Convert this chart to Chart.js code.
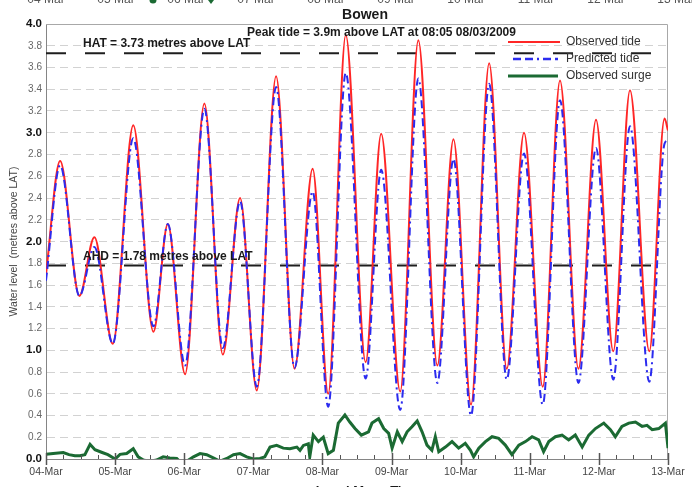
<!DOCTYPE html>
<html>
<head>
<meta charset="utf-8">
<title>Bowen water level</title>
<script src="https://cdn.jsdelivr.net/npm/chart.js@4"></script>
<style>
  html, body { margin: 0; padding: 0; background: #fff; overflow: hidden; }
  canvas { display: block; }
</style>
</head>
<body>
<canvas id="c" width="692" height="487"></canvas>
<script>
// Day labels for the x axis (one per 24 h, starting 04-Mar 00:00)
const dayLabels = ['04-Mar', '05-Mar', '06-Mar', '07-Mar', '08-Mar', '09-Mar', '10-Mar', '11-Mar', '12-Mar', '13-Mar'];

// Times (hours since 04-Mar 00:00) of the tide turning points
const tideHours = [0, 4.9, 11.6, 16.8, 23.2, 30.3, 37.3, 42.3, 48.3, 55.0, 61.4, 67.4, 73.2, 79.9, 86.3, 92.6,
  98.0, 104.1, 111.0, 116.4, 123.0, 129.3, 135.9, 141.5, 147.6, 153.9, 160.0, 166.0, 172.5, 178.5, 184.9,
  191.0, 197.0, 202.8, 209.5, 214.8, 216];

// Observed tide (m above LAT)
const observedTide = [1.70, 2.74, 1.50, 2.04, 1.06, 3.07, 1.17, 2.16, 0.78, 3.27, 0.96, 2.40, 0.63, 3.52, 0.83, 2.67,
  0.60, 3.90, 0.89, 2.99, 0.62, 3.85, 0.86, 2.94, 0.50, 3.64, 0.83, 3.00, 0.665, 3.48, 0.83,
  3.12, 0.99, 3.39, 0.99, 3.13, 3.02];

// Predicted tide (m above LAT)
const predictedTide = [1.64, 2.70, 1.50, 1.95, 1.06, 2.95, 1.22, 2.16, 0.86, 3.22, 1.02, 2.37, 0.665, 3.42, 0.84, 2.46,
  0.48, 3.55, 0.74, 2.66, 0.45, 3.50, 0.70, 2.76, 0.40, 3.45, 0.73, 2.81, 0.50, 3.30, 0.70,
  2.86, 0.73, 3.06, 0.71, 2.90, 2.93];

// Observed surge (m)
const surgeHours = [0, 2.5, 6, 8, 10, 11.8, 13.5, 15.3, 17, 19.5, 21.5, 24, 25.7, 28, 30.3, 32, 33.8, 36, 38.4,
  40.7, 43, 45.4, 47.1, 48.9, 51.2, 53.5, 55.8, 58.1, 60.4, 62.8, 65.1, 67.4, 69.7, 72, 74.3, 76, 77.8,
  80.1, 82.4, 84.7, 87.1, 88.2, 89.4, 91.1, 91.6, 92.8, 94.6, 96.3, 98, 99.8, 101.5, 103.8, 105.5, 107.3,
  109.5, 112, 113.2, 115.5, 117.3, 119, 120.2, 122, 123.7, 125.4, 127.1, 128.9, 130.6, 132.3, 134, 135.2,
  136.4, 138.7, 141, 143.3, 145.6, 147.4, 148.5, 150.3, 152.6, 154.9, 157.2, 159.5, 161.8, 164.2, 166.5,
  168.8, 171.1, 172.8, 174.6, 176.9, 179.2, 181.5, 183.8, 186.2, 188.5, 190.8, 193.7, 196, 197.7, 200,
  202.4, 204.7, 207, 208.7, 210.5, 212.8, 215.1, 216];
const observedSurge = [0.043, 0.05, 0.06, 0.04, 0.03, 0.03, 0.04, 0.135, 0.085, 0.06, 0.04, 0.0, 0.043, 0.05, 0.095,
  0.02, -0.01, -0.02, -0.01, 0.02, 0.01, 0.005, -0.04, -0.02, 0.02, 0.05, 0.04, 0.01, -0.02, 0.005, 0.04,
  0.05, 0.02, 0.0, 0.005, 0.02, 0.11, 0.125, 0.10, 0.095, 0.11, 0.08, 0.125, 0.14, 0.02, 0.22, 0.16, 0.20,
  0.05, 0.08, 0.33, 0.405, 0.34, 0.28, 0.22, 0.25, 0.33, 0.37, 0.28, 0.236, 0.10, 0.25, 0.16, 0.25, 0.297,
  0.35, 0.25, 0.128, 0.08, 0.205, 0.067, 0.11, 0.16, 0.10, 0.144, 0.08, 0.02, 0.10, 0.16, 0.205, 0.19,
  0.128, 0.04, 0.128, 0.16, 0.205, 0.175, 0.067, 0.16, 0.205, 0.22, 0.175, 0.22, 0.11, 0.22, 0.28, 0.33,
  0.27, 0.205, 0.30, 0.33, 0.34, 0.30, 0.31, 0.27, 0.28, 0.33, 0.10];

// Reference levels (m above LAT)
const HAT = 3.73;
const AHD = 1.78;
const peakTide = { value: 3.9, when: '08:05 08/03/2009' };

const FONT = '"Liberation Sans", Arial, Helvetica, sans-serif';
const pts = (xs, ys) => xs.map((x, i) => ({ x, y: ys[i] }));
const spanEnd = (dayLabels.length - 1) * 24;

const COLORS = { observed: '#ff2626', predicted: '#2b2bef', surge: '#1b6a33', ref: '#1e1e1e' };
const predictedDash = [8, 4, 8, 4, 2, 4];

// Frame, tick marks, annotations, legend and surrounding text
const decorations = {
  id: 'decorations',
  beforeDatasetsDraw(chart) {
    const { ctx, chartArea: a } = chart;
    ctx.save();
    ctx.strokeStyle = '#a8a8a8';
    ctx.lineWidth = 1;
    ctx.beginPath();
    ctx.moveTo(a.left, a.top + 0.5);
    ctx.lineTo(a.right - 0.5, a.top + 0.5);
    ctx.lineTo(a.right - 0.5, a.bottom);
    ctx.stroke();
    ctx.restore();
  },
  afterDatasetsDraw(chart) {
    const { ctx, chartArea: a, scales: { x, y } } = chart;
    ctx.save();

    // x-axis tick marks: major each day, minor every 6 h
    ctx.strokeStyle = '#555';
    for (let h = 0; h <= spanEnd; h += 6) {
      const px = Math.round(x.getPixelForValue(h)) + 0.5;
      ctx.beginPath();
      if (h % 24 === 0) {
        ctx.lineWidth = 1.5;
        ctx.moveTo(px, a.bottom - 6);
        ctx.lineTo(px, a.bottom + 6);
      } else {
        ctx.lineWidth = 1;
        ctx.moveTo(px, a.bottom - 4);
        ctx.lineTo(px, a.bottom);
      }
      ctx.stroke();
    }

    // Annotations
    ctx.fillStyle = '#1a1a1a';
    ctx.font = 'bold 12px ' + FONT;
    ctx.textAlign = 'left';
    ctx.textBaseline = 'middle';
    ctx.fillText('HAT = ' + HAT.toFixed(2) + ' metres above LAT', a.left + 37, y.getPixelForValue(HAT) - 10);
    ctx.fillText('AHD = ' + AHD.toFixed(2) + ' metres above LAT', a.left + 37, y.getPixelForValue(AHD) - 9);
    ctx.fillText('Peak tide = ' + peakTide.value + 'm above LAT at ' + peakTide.when, a.left + 201, a.top + 9);

    // Legend
    const legend = [
      { label: 'Observed tide', color: COLORS.observed, dash: [], width: 2, x0: 508, x1: 560 },
      { label: 'Predicted tide', color: COLORS.predicted, dash: predictedDash, width: 2.5, x0: 513, x1: 558 },
      { label: 'Observed surge', color: COLORS.surge, dash: [], width: 3, x0: 508, x1: 558 }
    ];
    ctx.font = '12px ' + FONT;
    legend.forEach((item, i) => {
      const ly = a.top + 18 + i * 17;
      ctx.strokeStyle = item.color;
      ctx.lineWidth = item.width;
      ctx.setLineDash(item.dash);
      ctx.beginPath();
      ctx.moveTo(item.x0, ly);
      ctx.lineTo(item.x1, ly);
      ctx.stroke();
      ctx.setLineDash([]);
      ctx.fillStyle = '#333';
      ctx.fillText(item.label, 566, ly);
    });
    ctx.restore();
  },
  afterDraw(chart) {
    const { ctx } = chart;
    ctx.save();
    // Title
    ctx.fillStyle = '#1a1a1a';
    ctx.font = 'bold 14px ' + FONT;
    ctx.textAlign = 'center';
    ctx.textBaseline = 'middle';
    ctx.fillText('Bowen', 365, 15);

    // Date row of the panel above (only its lower edge shows)
    ctx.font = '12px ' + FONT;
    ctx.fillStyle = '#555';
    ctx.textBaseline = 'alphabetic';
    dayLabels.forEach((d, i) => ctx.fillText(d.replace('-', ' '), 46 + i * 70, 3));
    ctx.fillStyle = COLORS.surge;
    ctx.beginPath();
    ctx.arc(153, 0, 3.5, 0, Math.PI * 2);
    ctx.fill();
    ctx.beginPath();
    ctx.moveTo(208, 0);
    ctx.lineTo(214, 0);
    ctx.lineTo(211, 4);
    ctx.closePath();
    ctx.fill();

    // x-axis title (mostly below the bottom edge)
    ctx.fillStyle = '#1a1a1a';
    ctx.font = 'bold 13px ' + FONT;
    ctx.fillText('Local Mean Time', 368, 495);
    ctx.restore();
  }
};

const isWhole = c => !!(c && c.tick) && Math.abs(c.tick.value - Math.round(c.tick.value)) < 1e-6;

new Chart(document.getElementById('c'), {
  type: 'line',
  data: {
    datasets: [
      {
        label: 'Observed tide',
        data: pts(tideHours, observedTide),
        borderColor: COLORS.observed,
        borderWidth: 2,
        cubicInterpolationMode: 'monotone',
        pointRadius: 0,
        order: 1
      },
      {
        label: 'Predicted tide',
        data: pts(tideHours, predictedTide),
        borderColor: COLORS.predicted,
        borderWidth: 2,
        borderDash: predictedDash,
        cubicInterpolationMode: 'monotone',
        pointRadius: 0,
        order: 0
      },
      {
        label: 'Observed surge',
        data: pts(surgeHours, observedSurge),
        borderColor: COLORS.surge,
        borderWidth: 3,
        tension: 0,
        pointRadius: 0,
        order: 2
      },
      {
        label: 'HAT',
        data: [{ x: 0, y: HAT }, { x: spanEnd, y: HAT }],
        borderColor: COLORS.ref,
        borderWidth: 2,
        borderDash: [20, 19],
        pointRadius: 0,
        order: 3
      },
      {
        label: 'AHD',
        data: [{ x: 0, y: AHD }, { x: spanEnd, y: AHD }],
        borderColor: COLORS.ref,
        borderWidth: 2,
        borderDash: [20, 19],
        pointRadius: 0,
        order: 3
      }
    ]
  },
  options: {
    responsive: false,
    devicePixelRatio: 1,
    animation: false,
    events: [],
    layout: { padding: { top: 24, right: 24, left: 0, bottom: 0 } },
    plugins: { legend: { display: false }, tooltip: { enabled: false } },
    scales: {
      x: {
        type: 'linear',
        min: 0,
        max: spanEnd,
        afterFit: s => { s.height = 28; },
        grid: { display: false, drawTicks: false },
        border: { color: '#858585', width: 1 },
        ticks: {
          stepSize: 24,
          autoSkip: false,
          maxRotation: 0,
          padding: 7,
          color: '#444',
          font: { family: FONT, size: 10.5 },
          callback: v => dayLabels[Math.round(v / 24)]
        }
      },
      y: {
        min: 0,
        max: 4,
        afterFit: s => { s.width = 46; },
        grid: { color: '#d2d2d2', lineWidth: 1, drawTicks: false },
        border: { color: '#858585', width: 1, dash: [8, 5] },
        title: {
          display: true,
          text: 'Water level  (metres above LAT)',
          color: '#444',
          font: { family: FONT, size: 10.5 },
          padding: { top: 8, bottom: 0 }
        },
        ticks: {
          stepSize: 0.2,
          padding: 4,
          autoSkip: false,
          callback: v => v.toFixed(1),
          color: c => isWhole(c) ? '#111' : '#666',
          font: c => isWhole(c)
            ? { family: FONT, size: 11.5, weight: 'bold' }
            : { family: FONT, size: 10 }
        }
      }
    }
  },
  plugins: [decorations]
});
</script>
</body>
</html>
